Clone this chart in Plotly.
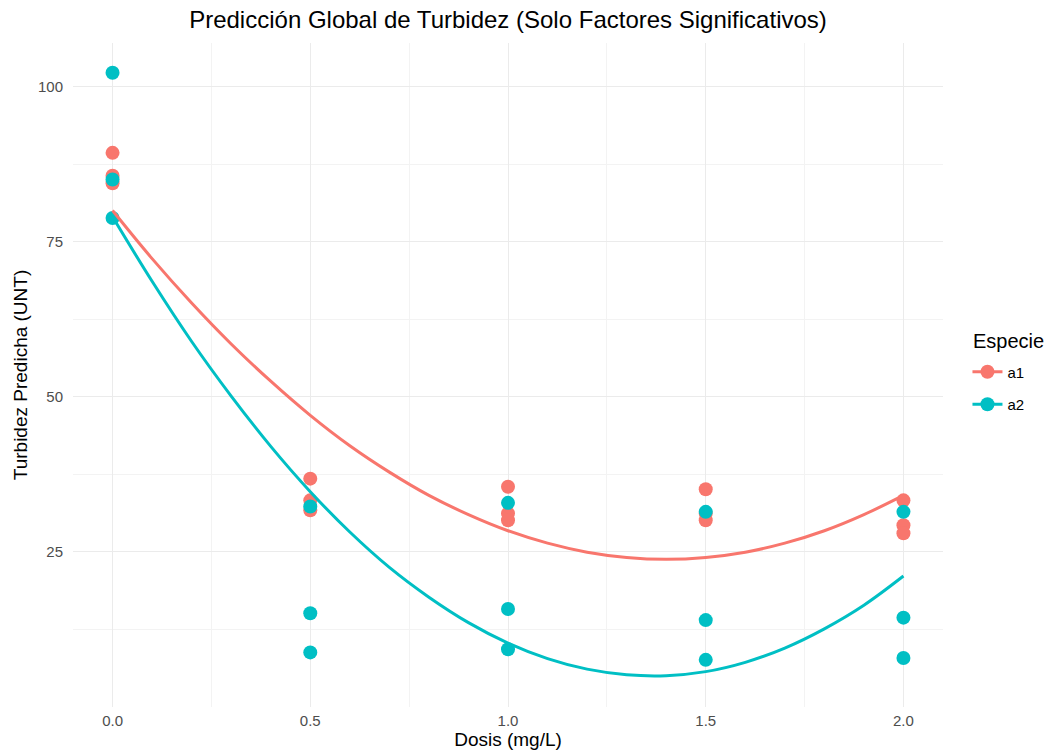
import plotly.graph_objects as go

# Observed points
dose_pts = [0.0, 0.0, 0.0, 0.5, 0.5, 0.5, 1.0, 1.0, 1.0, 1.5, 1.5, 1.5, 2.0, 2.0, 2.0]
a1_pts = [89.3, 85.6, 84.4, 36.8, 33.3, 31.7, 35.5, 31.2, 30.1, 35.1, 31.2, 30.1, 33.3, 29.3, 28.0]
a2_pts = [102.2, 85.0, 78.8, 32.3, 15.1, 8.8, 32.9, 15.8, 9.3, 31.45, 14.0, 7.6, 31.45, 14.4, 7.9]

# Predicted curves
dose_grid = [0.0, 0.1, 0.2, 0.3, 0.4, 0.5, 0.6, 0.7, 0.8, 0.9, 1.0,
             1.1, 1.2, 1.3, 1.4, 1.5, 1.6, 1.7, 1.8, 1.9, 2.0]
a1_pred = [80.0, 72.25, 65.1, 58.5, 52.5, 47.0, 42.1, 37.85, 34.1, 31.0, 28.4,
           26.4, 24.95, 24.1, 23.8, 24.1, 24.95, 26.4, 28.4, 31.0, 34.1]
a2_pred = [79.0, 68.6, 58.9, 50.1, 42.0, 34.7, 28.2, 22.5, 17.7, 13.6, 10.3,
           7.8, 6.1, 5.2, 5.05, 5.7, 7.2, 9.5, 12.6, 16.4, 21.1]

x_ticks = [0.0, 0.5, 1.0, 1.5, 2.0]
x_labels = ["0.0", "0.5", "1.0", "1.5", "2.0"]
y_ticks = [25, 50, 75, 100]
species = ["a1", "a2"]
colors = ["#F8766D", "#00BFC4"]

FONT = "Liberation Sans, Arial, Helvetica"

fig = go.Figure()
for name, pts, col in zip(species, [a1_pts, a2_pts], colors):
    fig.add_trace(go.Scatter(x=dose_pts, y=pts, mode="markers",
                             marker=dict(color=col, size=14),
                             showlegend=False, legendgroup=name))
for name, pred, col in zip(species, [a1_pred, a2_pred], colors):
    fig.add_trace(go.Scatter(x=dose_grid, y=pred, mode="lines",
                             line=dict(color=col, width=3, shape="spline"),
                             showlegend=False, legendgroup=name))
for name, col in zip(species, colors):
    fig.add_trace(go.Scatter(x=[None], y=[None], mode="lines+markers", name=name,
                             legendgroup=name,
                             marker=dict(color=col, size=14),
                             line=dict(color=col, width=3)))

axis_common = dict(showline=False, zeroline=False, ticks="", automargin=False,
                   gridcolor="#EBEBEB", gridwidth=1.4,
                   tickfont=dict(family=FONT, size=15, color="#4D4D4D"),
                   title_font=dict(family=FONT, size=19, color="#000000"))

L, R, T, B = 72.5, 104.5, 43, 44
PW = 1048 - L - R
PH = 751 - T - B
fig.update_layout(
    width=1048, height=751,
    paper_bgcolor="white", plot_bgcolor="white",
    margin=dict(l=L, r=R, t=T, b=B),
    title=dict(text="Predicción Global de Turbidez (Solo Factores Significativos)",
               x=508 / 1048, xanchor="center",
               y=1 - 20 / 751, yanchor="middle",
               font=dict(family=FONT, size=24, color="#000000")),
    xaxis=dict(range=[-0.1, 2.1], tickvals=x_ticks, ticktext=x_labels,
               ticklabelstandoff=3,
               title=dict(text="Dosis (mg/L)", standoff=4),
               minor=dict(tickvals=[0.25, 0.75, 1.25, 1.75], showgrid=True,
                          gridcolor="#F3F3F3", gridwidth=0.9),
               **axis_common),
    yaxis=dict(range=[0.0, 107.0], tickvals=y_ticks,
               ticklabelstandoff=9,
               title=dict(text="Turbidez Predicha (UNT)", standoff=5),
               minor=dict(tickvals=[12.5, 37.5, 62.5, 87.5], showgrid=True,
                          gridcolor="#F3F3F3", gridwidth=0.9),
               **axis_common),
    legend=dict(font=dict(family=FONT, size=15, color="#000000"),
                x=(968 - L) / PW, xanchor="left",
                y=1 - (388 - T) / PH, yanchor="middle",
                bgcolor="rgba(0,0,0,0)", itemwidth=30, tracegroupgap=10),
    annotations=[dict(text="Especie", xref="paper", yref="paper",
                      x=(972 - L) / PW, xanchor="left",
                      y=1 - (341 - T) / PH, yanchor="middle",
                      showarrow=False,
                      font=dict(family=FONT, size=20, color="#000000"))],
)

fig.write_html("out.html", config={"displayModeBar": False},
               post_script="document.body.style.margin='0px';")
